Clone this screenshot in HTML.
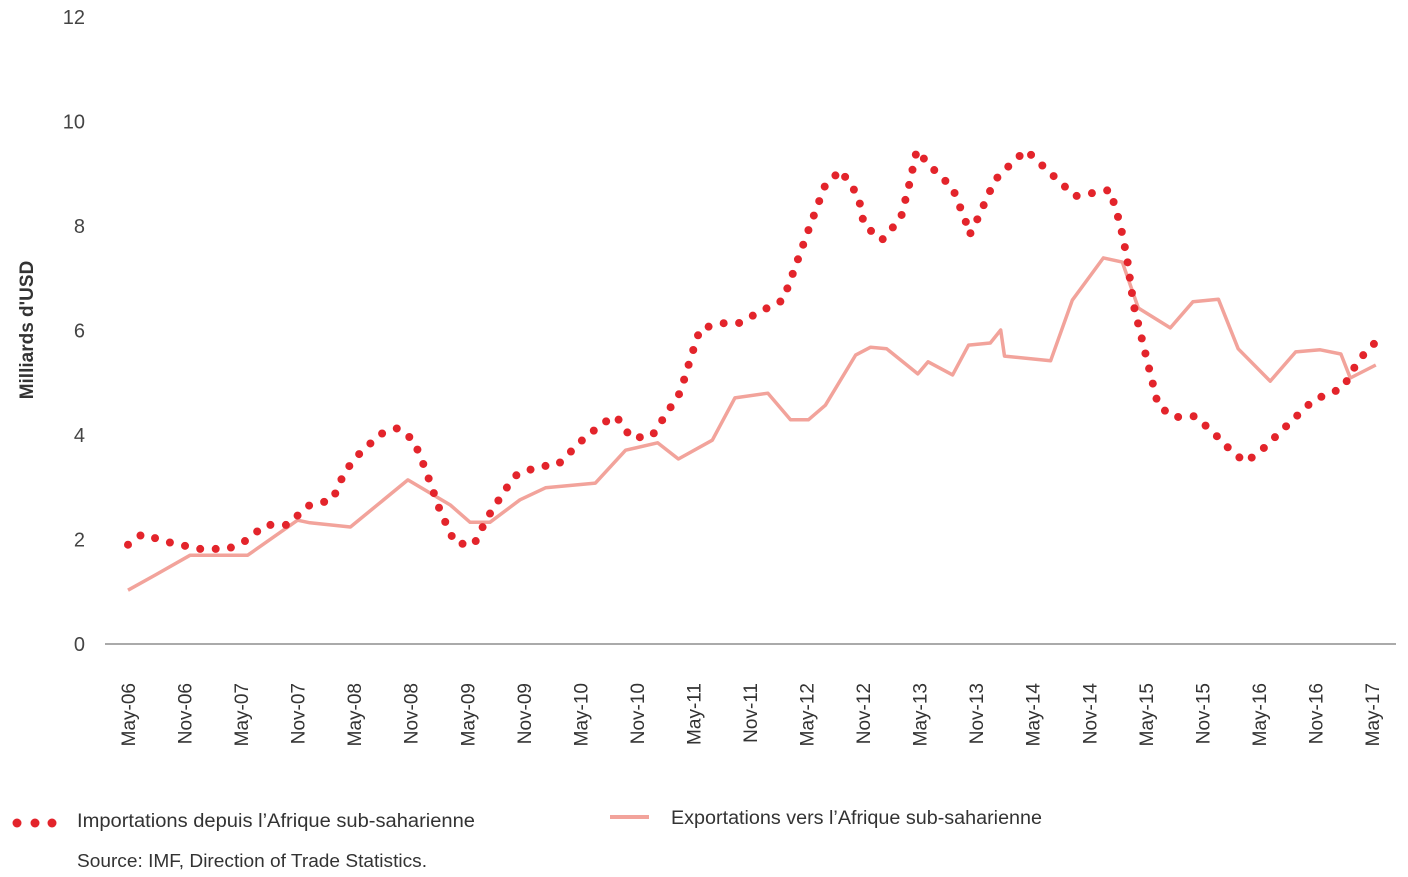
<!DOCTYPE html>
<html><head><meta charset="utf-8"><style>
body{margin:0;background:#fff;}
svg{display:block;font-family:"Liberation Sans",sans-serif;}
</style></head><body>
<svg id="chart" width="1408" height="877" viewBox="0 0 1408 877" xmlns="http://www.w3.org/2000/svg"></svg>
<script>
const xTickLabels=["May-06","Nov-06","May-07","Nov-07","May-08","Nov-08","May-09","Nov-09","May-10","Nov-10","May-11","Nov-11","May-12","Nov-12","May-13","Nov-13","May-14","Nov-14","May-15","Nov-15","May-16","Nov-16","May-17"];
const yTicks=[0,2,4,6,8,10,12];
const importMonths=[0,1.5,4.7,7.6,10.6,12.4,14.6,17,19,21.7,23,24.6,26.8,28.6,30.3,31.5,33.1,34.7,36.7,38.1,40.1,41.3,43.7,45.6,48.2,50.4,51.8,53.4,55.6,58.6,59.7,60.7,63,64.8,67.6,69.5,70.6,72.2,73.9,75.6,77.5,78.1,80,82,82.9,83.7,85.1,87.5,88.9,89.3,90,92,93.8,95.3,97.3,100.5,104.2,105.3,106,106.7,108,109.3,110.9,113.2,115.1,117.2,118.6,120.4,123.6,125.8,128.9,130.6,132.3];
const importValues=[1.9,2.1,1.93,1.82,1.82,1.97,2.28,2.28,2.64,2.76,3.3,3.65,4.02,4.13,3.9,3.37,2.56,1.93,1.9,2.41,2.97,3.25,3.4,3.43,3.9,4.23,4.36,3.94,3.98,4.82,5.47,6.03,6.14,6.14,6.41,6.58,7.12,7.92,8.75,9.07,8.57,8.02,7.73,8.15,8.8,9.45,9.15,8.73,8.08,7.83,8.08,8.88,9.21,9.45,9.11,8.57,8.69,8.02,7.39,6.49,5.53,4.57,4.34,4.36,4.06,3.67,3.48,3.73,4.29,4.67,4.9,5.44,5.76];
const exportMonths=[0,2.9,6.6,12.7,18,19.3,23.6,29.7,34.2,36.3,38.4,41.6,44.3,49.6,52.8,56.2,58.4,62,64.4,67.9,70.3,72.2,74,77.2,78.8,80.5,83.8,84.9,87.5,89.2,91.5,92.6,93,97.9,100.2,103.5,105.5,107.2,110.6,113,115.7,117.8,121.2,123.9,126.5,128.7,129.7,132.4];
const exportValues=[1.03,1.32,1.7,1.7,2.37,2.32,2.24,3.14,2.66,2.33,2.33,2.76,2.99,3.08,3.71,3.85,3.54,3.9,4.71,4.8,4.29,4.29,4.57,5.53,5.68,5.65,5.17,5.4,5.15,5.72,5.76,6.01,5.51,5.42,6.58,7.39,7.31,6.43,6.05,6.55,6.6,5.65,5.03,5.59,5.63,5.55,5.09,5.34];

const svg=document.getElementById('chart');
const NS='http://www.w3.org/2000/svg';
const X=m=>128+m*(1244/132);
const Y=v=>644-v*52.25;
function mk(tag,attrs,parent){const e=document.createElementNS(NS,tag);for(const k in attrs)e.setAttribute(k,attrs[k]);(parent||svg).appendChild(e);return e;}

yTicks.forEach(v=>{
  const t=mk('text',{x:85,y:Y(v)+7,'text-anchor':'end','font-size':20,fill:'#444'});
  t.textContent=v;
  
  
});
const axis=mk('line',{x1:105,y1:644,x2:1396,y2:644,stroke:'#555','stroke-width':1});


xTickLabels.forEach((l,i)=>{
  const x=X(i*6)+7;
  const t=mk('text',{x:0,y:0,transform:`translate(${x},683) rotate(-90)`,'text-anchor':'end','font-size':19,fill:'#333'});
  t.textContent=l;
  
  
});
const yt=mk('text',{x:0,y:0,transform:'translate(33,330) rotate(-90)','text-anchor':'middle','font-size':19,'font-weight':'bold',fill:'#333'});
yt.textContent="Milliards d'USD";



const ep=mk('path',{d:exportMonths.map((m,i)=>(i?'L':'M')+X(m).toFixed(1)+','+Y(exportValues[i]).toFixed(1)).join(''),fill:'none',stroke:'#f2a39b','stroke-width':3.5,'stroke-linejoin':'round'});


const ip=mk('path',{d:importMonths.map((m,i)=>(i?'L':'M')+X(m).toFixed(1)+','+Y(importValues[i]).toFixed(1)).join(''),fill:'none',stroke:'#e3242b','stroke-width':8,'stroke-linecap':'round','stroke-dasharray':'0 15.5'});



const lg=mk('g',{});


[17,35,52].forEach(x=>{mk('circle',{cx:x,cy:823,r:4.5,fill:'#e3242b'},lg);});
const l1=mk('text',{x:77,y:827,'font-size':19,fill:'#333',textLength:398,lengthAdjust:'spacingAndGlyphs'},lg);
l1.textContent="Importations depuis l\u2019Afrique sub-saharienne";


mk('line',{x1:610,y1:817,x2:649,y2:817,stroke:'#f2a39b','stroke-width':4},lg);
const l2=mk('text',{x:671,y:824,'font-size':19,fill:'#333',textLength:371,lengthAdjust:'spacingAndGlyphs'},lg);
l2.textContent="Exportations vers l\u2019Afrique sub-saharienne";


const src=mk('text',{x:77,y:867,'font-size':18,fill:'#333',textLength:350,lengthAdjust:'spacingAndGlyphs'});
src.textContent="Source: IMF, Direction of Trade Statistics.";


</script>
</body></html>
